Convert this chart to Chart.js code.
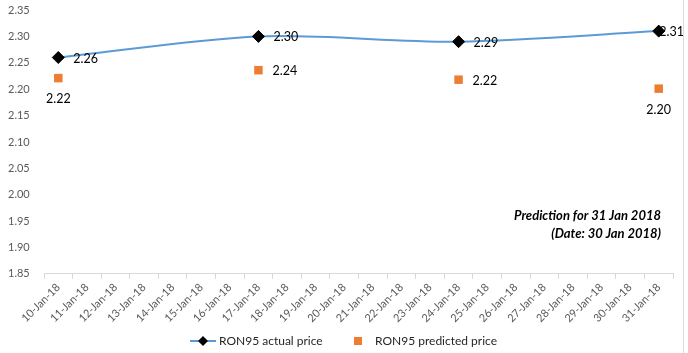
<!DOCTYPE html>
<html>
<head>
    <title>RON95 price</title>
    <style>
        body { margin: 0; background: #fff; }
        #wrap { width: 688px; height: 353px; }
    </style>
</head>
<body>
    <div id="wrap"><canvas id="myChart" width="688" height="353"></canvas></div>
<script src="https://cdn.jsdelivr.net/npm/chart.js"></script>
<script>
    // x categories, one per day
    const days = ["10-Jan-18","11-Jan-18","12-Jan-18","13-Jan-18","14-Jan-18","15-Jan-18","16-Jan-18",
        "17-Jan-18","18-Jan-18","19-Jan-18","20-Jan-18","21-Jan-18","22-Jan-18","23-Jan-18","24-Jan-18",
        "25-Jan-18","26-Jan-18","27-Jan-18","28-Jan-18","29-Jan-18","30-Jan-18","31-Jan-18"];
    const priceDays = ["10-Jan-18","17-Jan-18","24-Jan-18","31-Jan-18"];
    const actualPrice = [2.26, 2.30, 2.29, 2.31];
    const predictedPrice = [2.221, 2.236, 2.218, 2.201];
    const predictedLabelPos = ["below", "right", "right", "below"];
    const yTicks = [1.85, 1.90, 1.95, 2.00, 2.05, 2.10, 2.15, 2.20, 2.25, 2.30, 2.35];
    const noteLines = ["Prediction for 31 Jan 2018", "(Date: 30 Jan 2018)"];

    const FONT = "Lato, 'Open Sans', sans-serif";
    const BLUE = "#5B9BD5";
    const ORANGE = "#ED7D31";

    function pairUp(values){
        return priceDays.map((d, i) => ({x: d, y: values[i]}));
    }

    // value labels, note text, legend
    const extras = {
        id: "extras",
        afterDatasetsDraw(chart){
            const ctx = chart.ctx;
            ctx.save();
            ctx.font = "12.5px " + FONT;
            ctx.fillStyle = "#000";
            ctx.textBaseline = "middle";
            const w = chart.width;
            chart.getDatasetMeta(0).data.forEach((pt, i) => {
                const txt = actualPrice[i].toFixed(2);
                const tw = ctx.measureText(txt).width;
                let x = Math.min(pt.x + 15, w - 4 - tw);
                ctx.textAlign = "left";
                ctx.fillText(txt, x, pt.y + 1);
            });
            chart.getDatasetMeta(1).data.forEach((pt, i) => {
                const txt = predictedPrice[i].toFixed(2);
                const tw = ctx.measureText(txt).width;
                ctx.textAlign = "left";
                if (predictedLabelPos[i] === "below"){
                    let x = Math.min(pt.x - tw / 2, w - 4 - tw);
                    ctx.fillText(txt, x, pt.y + 21);
                } else {
                    ctx.fillText(txt, pt.x + 14, pt.y + 1);
                }
            });

            // note
            ctx.font = "italic bold 13px " + FONT;
            ctx.textAlign = "right";
            ctx.fillText(noteLines[0], 661, 216);
            ctx.fillText(noteLines[1], 661, 234);

            // legend
            const ly = 341;
            ctx.font = "12px " + FONT;
            ctx.textAlign = "left";
            ctx.strokeStyle = BLUE;
            ctx.lineWidth = 2;
            ctx.beginPath();
            ctx.moveTo(190, ly);
            ctx.lineTo(216, ly);
            ctx.stroke();
            ctx.fillStyle = "#000";
            ctx.beginPath();
            ctx.moveTo(203, ly - 5);
            ctx.lineTo(208, ly);
            ctx.lineTo(203, ly + 5);
            ctx.lineTo(198, ly);
            ctx.closePath();
            ctx.fill();
            ctx.fillStyle = "#262626";
            ctx.fillText(chart.data.datasets[0].label, 219, ly);
            ctx.fillStyle = ORANGE;
            ctx.fillRect(354, ly - 4, 8, 8);
            ctx.fillStyle = "#262626";
            ctx.fillText(chart.data.datasets[1].label, 375, ly);

            // right border
            ctx.strokeStyle = "#d9d9d9";
            ctx.lineWidth = 1;
            ctx.beginPath();
            ctx.moveTo(683.5, 0);
            ctx.lineTo(683.5, chart.height);
            ctx.stroke();
            ctx.restore();
        }
    };

    const config = {
        type: "line",
        data: {
            labels: days,
            datasets: [{
                label: "RON95 actual price",
                data: pairUp(actualPrice),
                borderColor: BLUE,
                borderWidth: 2,
                tension: 0.3,
                pointStyle: "rectRot",
                pointRadius: 6,
                pointBackgroundColor: "#000",
                pointBorderColor: "#000",
                pointBorderWidth: 1
            }, {
                label: "RON95 predicted price",
                data: pairUp(predictedPrice),
                showLine: false,
                pointStyle: "rect",
                pointRadius: 6,
                pointBackgroundColor: ORANGE,
                pointBorderColor: ORANGE,
                pointBorderWidth: 0
            }]
        },
        options: {
            responsive: false,
            animation: false,
            layout: { padding: { left: 8, right: 15, top: 0, bottom: 26 } },
            plugins: { legend: { display: false }, tooltip: { enabled: false } },
            scales: {
                x: {
                    offset: true,
                    afterFit: axis => { axis.paddingLeft = 0; axis.paddingRight = 0; },
                    grid: { offset: true, drawOnChartArea: false, drawTicks: true, tickLength: 5, color: "#d9d9d9" },
                    border: { color: "#d9d9d9" },
                    ticks: { color: "#595959", font: { family: FONT, size: 11 }, minRotation: 45, maxRotation: 45, autoSkip: false, padding: 2 }
                },
                y: {
                    min: yTicks[0],
                    max: yTicks[yTicks.length - 1],
                    afterBuildTicks: axis => { axis.ticks = yTicks.map(v => ({value: v})); },
                    afterFit: axis => { axis.width = 36; axis.paddingTop = 10; axis.paddingBottom = 0; },
                    grid: { display: false },
                    border: { display: false },
                    ticks: { color: "#595959", font: { family: FONT, size: 11 }, crossAlign: "far", padding: 8, callback: v => Number(v).toFixed(2) }
                }
            }
        },
        plugins: [extras]
    };
    new Chart(document.getElementById("myChart"), config);
</script>
</body>
</html>
